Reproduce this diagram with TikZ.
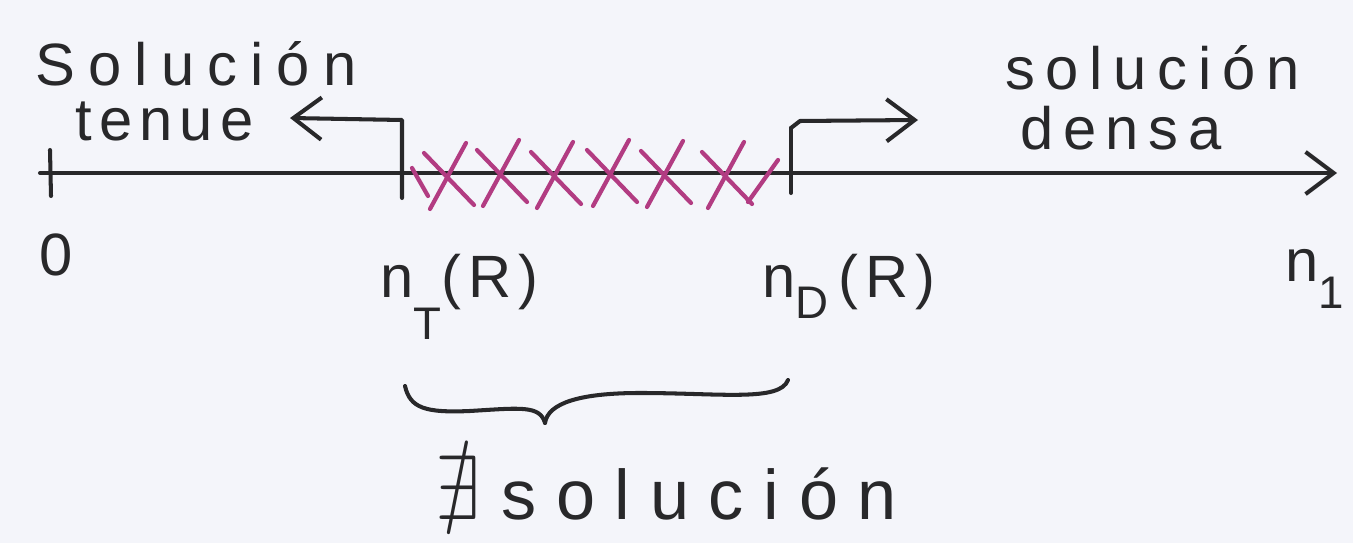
\documentclass[tikz,border=0pt]{standalone}
\usepackage{fontspec}
\usepackage{amssymb}
\usetikzlibrary{arrows.meta}
\newfontfamily\hand[LetterSpace=12]{Liberation Sans}
\definecolor{ink}{RGB}{40,40,42}
\definecolor{mag}{RGB}{178,60,130}
\definecolor{paper}{RGB}{244,245,250}
\begin{document}
\begin{tikzpicture}[x=0.02cm,y=-0.02cm,
  pen/.style={draw=ink,line width=2.3pt,line cap=round,line join=round},
  barb/.style={-{Straight Barb[length=16pt,width=24pt,line width=2.3pt]}},
  lbl/.style={text=ink,font=\hand\fontsize{34}{40}\selectfont,inner sep=0pt},
  xmark/.style={draw=mag,line width=2.4pt,line cap=round}]
\fill[paper] (0,0) rectangle (1353,543);
\useasboundingbox (0,0) rectangle (1353,543);
% axis
\coordinate (axL) at (40,173);
\coordinate (axR) at (1337,173);
\draw[pen,barb] (axL) -- (axR);
% tick at 0
\coordinate (t0a) at (50,150);
\coordinate (t0b) at (51,196);
\draw[pen] (t0a) -- (t0b);
% tick at n_T with arrow to the left
\coordinate (tTb) at (402,198);
\coordinate (tTa) at (402,120);
\coordinate (tenueTip) at (290,118);
\draw[pen,barb] (tTb) -- (tTa) -- (tenueTip);
% tick at n_D with arrow to the right
\coordinate (tDb) at (791,193);
\coordinate (tDa) at (791,128);
\coordinate (tDc) at (800,121);
\coordinate (densaTip) at (918,120);
\draw[pen] (tDb) -- (tDa);
\draw[pen,barb] (tDa) -- (tDc) -- (densaTip);
% magenta crosses
\foreach \cx/\cy in {450/175,503/172,557/174,613/172,667/173,728/174}{
  \draw[xmark] (\cx-26,\cy-22) -- (\cx+24,\cy+30);
  \draw[xmark] (\cx+16,\cy-32) -- (\cx-20,\cy+34);
}
\draw[xmark] (412,168) -- (428,196);
\draw[xmark] (748,202) -- (778,160);
% labels
\node[lbl,anchor=base west] (solT) at (35,86) {\addfontfeature{LetterSpace=22}Solución};
\node[lbl,anchor=base west] (tenue) at (75,141) {tenue};
\node[lbl,anchor=base west] (solD) at (1005,90) {\addfontfeature{LetterSpace=18}solución};
\node[lbl,anchor=base west] (densa) at (1020,150) {\addfontfeature{LetterSpace=16}densa};
\node[lbl] (zero) at (56,255) {0};
\node[lbl,anchor=base west] (n1) at (1285,282) {n\raisebox{-0.45em}{\fontsize{26}{30}\selectfont 1}};
\node[lbl,anchor=base west] (nT) at (380,298) {n\raisebox{-0.7em}{\fontsize{26}{30}\selectfont T}(R)};
\node[lbl,anchor=base west] (nD) at (762,298) {n\raisebox{-0.35em}{\fontsize{26}{30}\selectfont D}\,(R)};
% brace
\coordinate (brL) at (405,386);
\coordinate (brM) at (545,423);
\coordinate (brR) at (788,380);
\draw[pen] (brL) .. controls (410,408) and (425,413) .. (470,411)
  .. controls (520,408) and (540,405) .. (brM);
\draw[pen] (brM) .. controls (548,403) and (580,393) .. (640,393)
  .. controls (720,393) and (780,402) .. (brR);
% nonexistence
\node[lbl,anchor=base west,font=\hand\fontsize{40}{46}\selectfont] (nexist) at (435,520)
  {\scalebox{1.15}[1.3]{$\nexists$}\hspace{0.3em}\addfontfeature{LetterSpace=28}solución};
\end{tikzpicture}
\end{document}
